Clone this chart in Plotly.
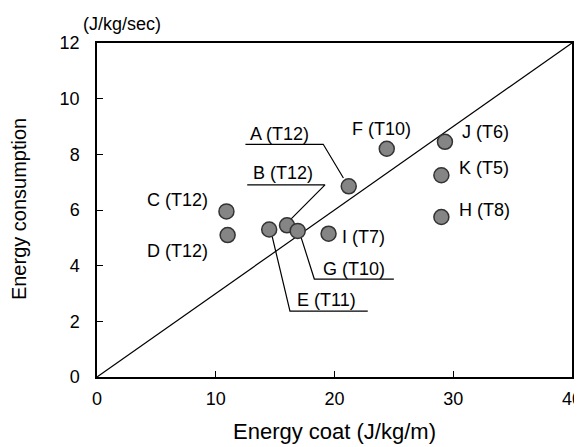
import plotly.graph_objects as go

# ---- data ----
names = ["A (T12)", "B (T12)", "C (T12)", "D (T12)", "E (T11)", "F (T10)",
         "G (T10)", "H (T8)", "I (T7)", "J (T6)", "K (T5)"]
energy_cost = [21.2, 16.0, 10.9, 11.0, 14.5, 24.4, 16.9, 29.0, 19.5, 29.3, 29.0]
energy_consumption = [6.85, 5.45, 5.95, 5.1, 5.3, 8.2, 5.25, 5.75, 5.15, 8.45, 7.25]
x_ticks = [0, 10, 20, 30, 40]
y_ticks = [0, 2, 4, 6, 8, 10, 12]
x_title = "Energy coat (J/kg/m)"
y_title = "Energy consumption"
y_unit = "(J/kg/sec)"

# ---- label placement (layout only) ----
label_pos = {
    "A (T12)": (15.4, 8.73), "B (T12)": (15.7, 7.33), "C (T12)": (6.75, 6.36),
    "D (T12)": (6.75, 4.53), "E (T11)": (19.3, 2.77), "F (T10)": (23.95, 8.9),
    "G (T10)": (21.6, 3.88), "H (T8)": (32.6, 6.0), "I (T7)": (22.45, 5.03),
    "J (T6)": (32.7, 8.8), "K (T5)": (32.55, 7.5),
}
# leader paths: list of (x, y) vertices
leaders = [
    [(12.5, 8.36), (19.05, 8.36), (20.75, 7.15)],   # A
    [(12.65, 6.9), (19.2, 6.9), (16.35, 5.68)],     # B
    [(22.8, 2.37), (16.25, 2.37), (14.75, 5.05)],   # E
    [(25.0, 3.52), (18.3, 3.52), (17.2, 5.0)],      # G
]

FAM = "Liberation Sans, Arial, sans-serif"

fig = go.Figure()

# diagonal reference line
fig.add_trace(go.Scatter(x=[0, 40], y=[0, 12], mode="lines",
                         line=dict(color="black", width=1.2),
                         hoverinfo="skip", showlegend=False))

for pts in leaders:
    fig.add_trace(go.Scatter(x=[p[0] for p in pts], y=[p[1] for p in pts],
                             mode="lines", line=dict(color="black", width=1.2),
                             hoverinfo="skip", showlegend=False))

fig.add_trace(go.Scatter(x=energy_cost, y=energy_consumption, mode="markers",
                         marker=dict(size=15, color="#858585",
                                     line=dict(color="#333333", width=1.5)),
                         showlegend=False))

font = dict(family=FAM, size=18, color="black")
for n in names:
    lx, ly = label_pos[n]
    fig.add_annotation(x=lx, y=ly, text=n, showarrow=False, font=font,
                       xanchor="center", yanchor="middle")

fig.add_annotation(xref="paper", yref="paper", x=-0.034, y=1.02, text=y_unit,
                   showarrow=False, xanchor="left", yanchor="bottom",
                   font=dict(family=FAM, size=18, color="black"))
fig.add_annotation(xref="paper", yref="paper", x=-0.164, y=0.503, text=y_title,
                   showarrow=False, xanchor="center", yanchor="middle", textangle=-90,
                   font=dict(family=FAM, size=20, color="black"))
fig.add_annotation(xref="paper", yref="paper", x=0.499, y=-0.162, text=x_title,
                   showarrow=False, xanchor="center", yanchor="middle",
                   font=dict(family=FAM, size=22, color="black"))

axis_common = dict(showline=True, linecolor="black", linewidth=1.5, mirror=True,
                   ticks="inside", ticklen=6, tickwidth=1.3, tickcolor="black",
                   showgrid=False, zeroline=False, automargin=False,
                   ticklabeloverflow="allow",
                   tickfont=dict(family=FAM, size=18, color="black"))

fig.update_xaxes(range=[0, 40], tickvals=x_ticks, ticklabelstandoff=5, **axis_common)
fig.update_yaxes(range=[0, 12], tickvals=y_ticks, ticklabelstandoff=12, **axis_common)

# the page body adds an 8px offset, so the figure is sized 8px smaller
fig.update_layout(width=574, height=439, margin=dict(l=89, r=10, t=35, b=70),
                  plot_bgcolor="white", paper_bgcolor="white", showlegend=False)

fig.write_html("out.html")
